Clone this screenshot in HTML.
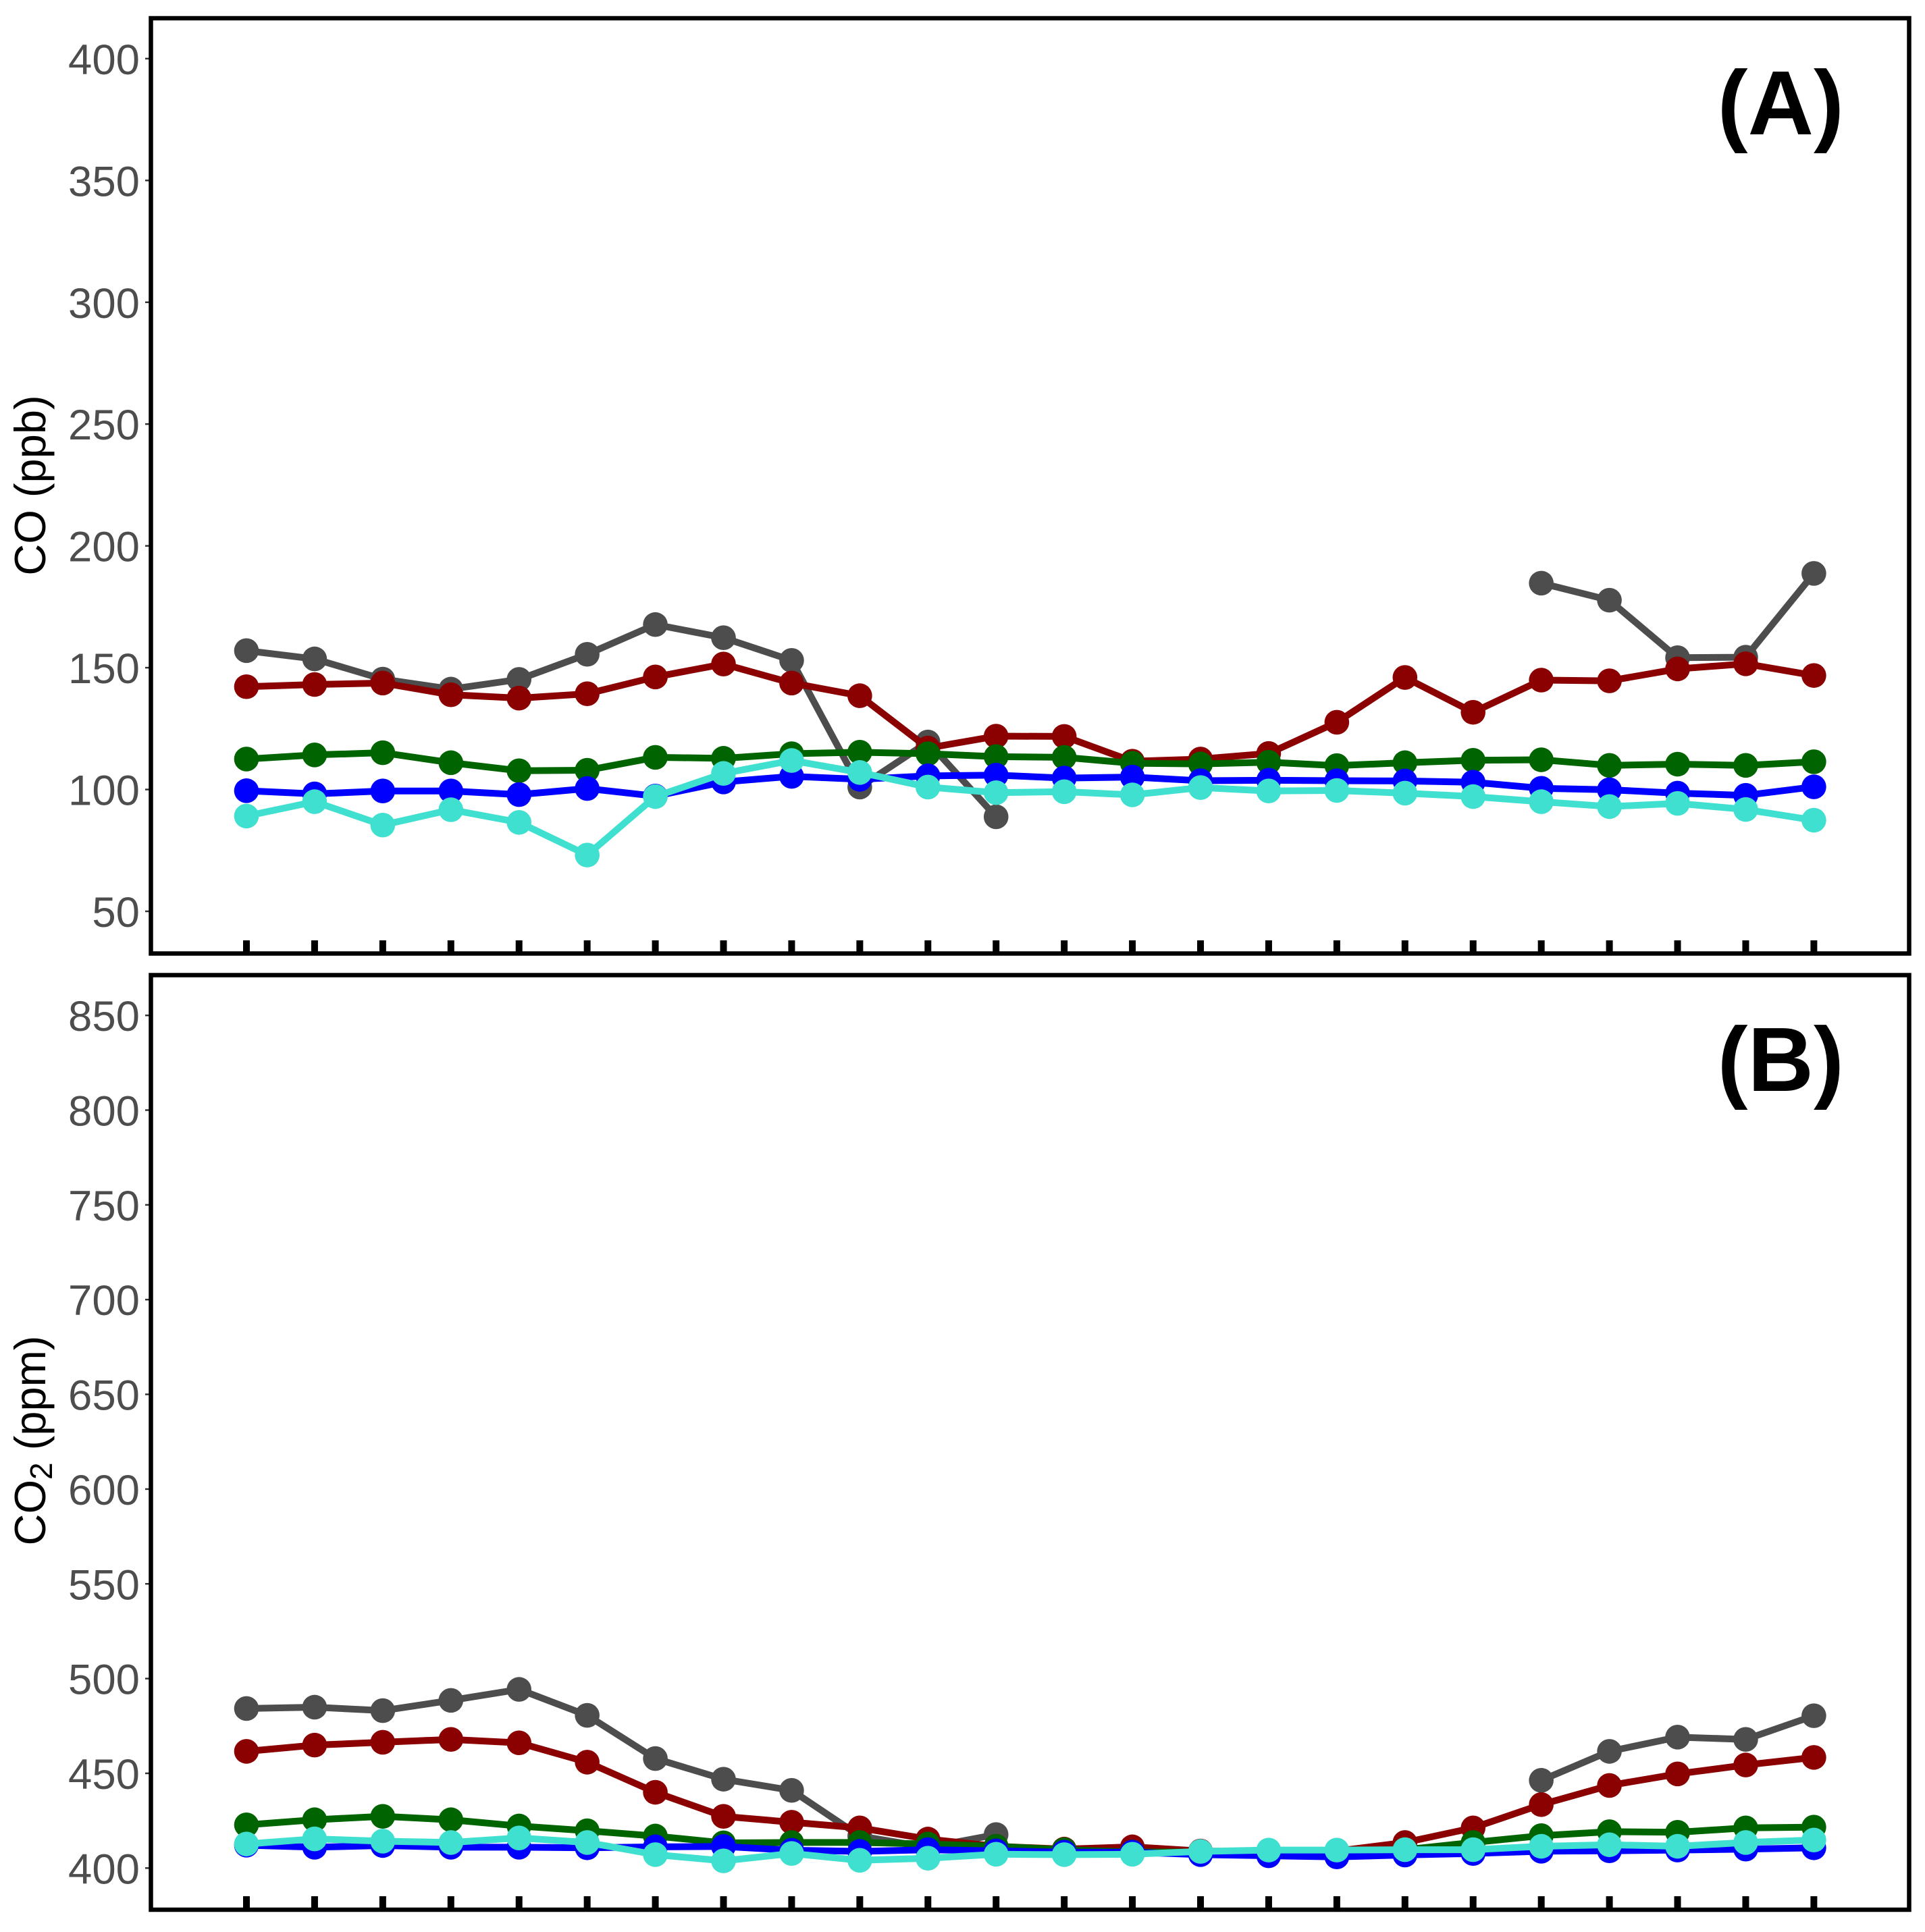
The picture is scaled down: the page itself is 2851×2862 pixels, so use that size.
<!DOCTYPE html>
<html lang="en">
<head>
<meta charset="utf-8">
<title>CO and CO2 time series</title>
<style>
html,body{margin:0;padding:0;background:#fff;}
svg{display:block;font-family:"Liberation Sans",sans-serif;}
.tick-label{font-size:63.5px;fill:#4d4d4d;text-anchor:end;}
.axis-title{font-size:65px;fill:#000;text-anchor:middle;}
.panel-letter{font-size:135px;font-weight:bold;fill:#000;text-anchor:end;}
.frame{fill:none;stroke:#000;stroke-width:6.5;}
</style>
</head>
<body>
<svg id="chart" xmlns="http://www.w3.org/2000/svg" width="2851" height="2862" viewBox="0 0 2851 2862">
  <rect x="0" y="0" width="2851" height="2862" fill="#fff"/>
  <g id="panel-a"></g>
  <g id="panel-b"></g>
  <rect class="frame" x="223.5" y="27" width="2604" height="1385.5"/>
  <rect class="frame" x="223.5" y="1444.5" width="2604" height="1384.5"/>
  <text class="axis-title" transform="translate(67 719) rotate(-90)">CO (ppb)</text>
  <text class="axis-title" transform="translate(67 2134) rotate(-90)">CO<tspan dy="10" font-size="46">2</tspan><tspan dy="-10"> (ppm)</tspan></text>
  <text class="panel-letter" x="2731" y="199">(A)</text>
  <text class="panel-letter" x="2731" y="1616">(B)</text>
</svg>
<script>
// Category positions (24 sampling steps)
const categories = [1,2,3,4,5,6,7,8,9,10,11,12,13,14,15,16,17,18,19,20,21,22,23,24];

// Panel A: CO (ppb)
const coTicks = [50,100,150,200,250,300,350,400];
const coGray  = [157,153.6,145.3,141.2,145.2,155.5,167.7,162.3,153,101,119.5,88.8,null,null,null,null,null,null,null,184.7,177.7,154.1,154.3,188.7];
const coRed   = [142.2,143.1,143.7,138.9,137.5,139.3,146.2,151.5,143.7,138.5,117,121.9,121.8,111.6,112.5,114.8,127.6,146,131.7,144.9,144.6,149.5,151.6,146.8];
const coGreen = [112.5,114.2,115.1,111,107.7,107.9,113.2,112.8,114.7,115.3,114.7,113.5,113.2,110.8,110.5,111.2,109.8,111,112,112.2,109.9,110.4,109.9,111.4];
const coBlue  = [99.5,98.2,99.4,99.4,97.9,100.4,97.3,103.1,105.4,104.2,105.6,105.9,104.7,105.1,103.6,103.8,103.6,103.5,103,100.5,99.9,98.5,97.6,101.1];
const coCyan  = [89.1,95,85.4,91.7,86.5,73.1,97.1,106.6,111.9,107,101,98.7,99.1,97.8,100.8,99.4,99.6,98.5,97.1,95,93,94.3,91.8,87.4];

// Panel B: CO2 (ppm)
const co2Ticks = [400,450,500,550,600,650,700,750,800,850];
const co2Gray  = [484.2,484.9,483.1,488.5,494.3,480.6,457.8,446.9,441,416.9,410.9,417.7,null,null,null,null,null,null,null,446.3,461.6,469.1,467.9,480.4];
const co2Red   = [461.6,464.9,466.4,467.9,466.1,455.9,440,427.3,424.2,421.2,415.3,411.5,410,411.2,409,408.5,409,413.5,421.2,433.5,443.6,449.7,454.4,458.4];
const co2Green = [422.8,425.5,427.3,425.5,422.2,419.7,416.9,413.3,413.5,413.5,412.7,411.5,409.7,408.5,408.5,408.7,409,409.7,413.5,417.1,419.2,418.9,421.2,421.6];
const co2Blue  = [412.1,411,411.9,411,411,410.7,411.2,411.4,409.4,408.8,409.7,409.1,408.4,408.4,407.1,406.5,405.9,406.9,407.7,408.9,409.1,409.5,410,410.7];
const co2Cyan  = [412.7,415.4,414.2,413.5,415.9,413.5,407.1,403.8,407.7,404.1,405.2,407.3,407.1,407.3,408.8,409.5,409.5,409.7,409.7,411.5,412.3,411.5,413.5,414.8];

const seriesNames = ['gray','red','green','blue','cyan'];
const seriesColors = ['#4d4d4d','#8b0000','#006400','#0000ff','#40e0d0'];

const NS = 'http://www.w3.org/2000/svg';

function xScale(category) {
  return 365 + (category - categories[0]) * 100.93;
}
function yScaleA(v) {
  return 1350 - (v - 50) * 3.609;
}
function yScaleB(v) {
  return 2767.3 - (v - 400) * 2.807;
}

function drawYAxis(parent, ticks, yScale, panel) {
  ticks.forEach(function (t) {
    const y = yScale(t);
    const line = document.createElementNS(NS, 'line');
    
    
    line.setAttribute('x1', 215);
    line.setAttribute('x2', 222);
    line.setAttribute('y1', y);
    line.setAttribute('y2', y);
    line.setAttribute('stroke', '#333');
    line.setAttribute('stroke-width', 2.5);
    parent.appendChild(line);
    const label = document.createElementNS(NS, 'text');
    
    
    label.setAttribute('class', 'tick-label');
    label.setAttribute('x', 207);
    label.setAttribute('y', y + 23);
    label.textContent = String(t);
    parent.appendChild(label);
  });
}

function drawXTicks(parent, bottomY, panel) {
  categories.forEach(function (c) {
    const tick = document.createElementNS(NS, 'rect');
    
    
    tick.setAttribute('x', xScale(c) - 5);
    tick.setAttribute('y', bottomY - 18);
    tick.setAttribute('width', 10);
    tick.setAttribute('height', 18);
    tick.setAttribute('fill', '#000');
    parent.appendChild(tick);
  });
}

function drawSeries(parent, values, yScale, color, name) {
  const group = document.createElementNS(NS, 'g');
  
  
  let run = [];
  function flush() {
    if (run.length > 1) {
      const line = document.createElementNS(NS, 'polyline');
      
      
      line.setAttribute('points', run.join(' '));
      line.setAttribute('fill', 'none');
      line.setAttribute('stroke', color);
      line.setAttribute('stroke-width', 10);
      line.setAttribute('stroke-linejoin', 'round');
      group.appendChild(line);
    }
    run = [];
  }
  values.forEach(function (v, i) {
    if (v === null) { flush(); return; }
    run.push(xScale(categories[i]) + ',' + yScale(v));
  });
  flush();
  values.forEach(function (v, i) {
    if (v === null) return;
    const dot = document.createElementNS(NS, 'circle');
    
    
    dot.setAttribute('cx', xScale(categories[i]));
    dot.setAttribute('cy', yScale(v));
    dot.setAttribute('r', 18.3);
    dot.setAttribute('fill', color);
    group.appendChild(dot);
  });
  parent.appendChild(group);
}

const panelA = document.getElementById('panel-a');
const panelB = document.getElementById('panel-b');

drawYAxis(panelA, coTicks, yScaleA, 'co');
drawXTicks(panelA, 1411, 'co');
[coGray, coRed, coGreen, coBlue, coCyan].forEach(function (values, i) {
  drawSeries(panelA, values, yScaleA, seriesColors[i], 'co-' + seriesNames[i]);
});

drawYAxis(panelB, co2Ticks, yScaleB, 'co2');
drawXTicks(panelB, 2827, 'co2');
[co2Gray, co2Red, co2Green, co2Blue, co2Cyan].forEach(function (values, i) {
  drawSeries(panelB, values, yScaleB, seriesColors[i], 'co2-' + seriesNames[i]);
});
</script>
</body>
</html>
